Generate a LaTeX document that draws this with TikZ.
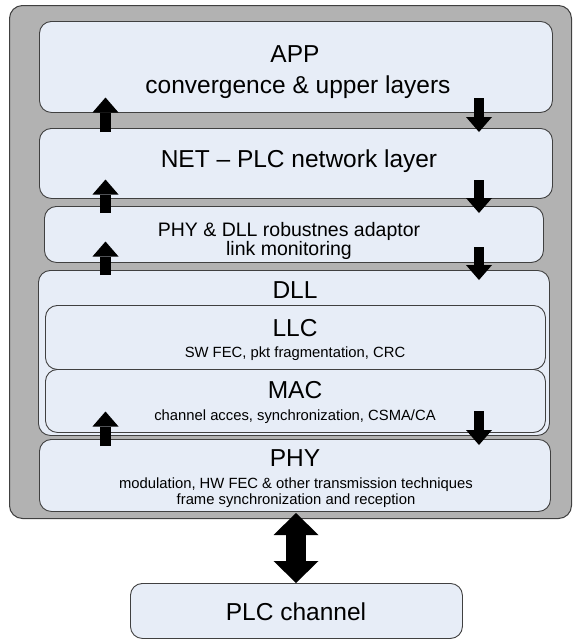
\documentclass[tikz,border=0pt]{standalone}
\usepackage{fontspec}
\setmainfont{Liberation Sans}
\usetikzlibrary{arrows.meta}

\definecolor{layerfill}{RGB}{231,237,247}
\definecolor{stackgray}{RGB}{178,178,178}
\definecolor{edgegray}{RGB}{64,64,64}

\tikzset{
  layerbox/.style={draw=edgegray, line width=0.9pt, fill=layerfill, rounded corners=12pt},
  stackbox/.style={draw=edgegray, line width=1pt, fill=stackgray, rounded corners=13pt},
  bigtxt/.style={anchor=base, inner sep=0pt, font=\fontsize{24.5}{24.5}\selectfont},
  midtxt/.style={anchor=base, inner sep=0pt, font=\fontsize{19.5}{19.5}\selectfont},
  smalltxt/.style={anchor=base, inner sep=0pt, font=\fontsize{14.8}{14.8}\selectfont},
  flowarrow/.style={line width=10.5pt, -{Triangle[width=26pt,length=15pt,line width=0pt]}},
  linkarrow/.style={line width=20pt,
    {Triangle[width=45pt,length=22pt,line width=0pt]}-{Triangle[width=45pt,length=22pt,line width=0pt]}},
}

\begin{document}
\begin{tikzpicture}[x=1pt, y=-1pt]
\useasboundingbox (0,0) rectangle (574,641);

% protocol stack frame
\node[stackbox, minimum width=562pt, minimum height=513pt, anchor=north west] (stack) at (9,5) {};

% layers
\node[layerbox, minimum width=513pt, minimum height=91pt, anchor=north west] (app) at (39,21) {};
\node[layerbox, minimum width=513pt, minimum height=70pt, anchor=north west] (net) at (39,128) {};
\node[layerbox, minimum width=499pt, minimum height=56pt, anchor=north west] (adapt) at (44,206) {};
\node[layerbox, minimum width=511pt, minimum height=165pt, anchor=north west] (dll) at (38,270) {};
\node[layerbox, minimum width=500pt, minimum height=64pt, anchor=north west] (llc) at (45,305) {};
\node[layerbox, minimum width=500pt, minimum height=63pt, anchor=north west] (mac) at (45,369) {};
\node[layerbox, minimum width=511pt, minimum height=72pt, anchor=north west] (phy) at (39,439) {};
\node[layerbox, minimum width=332pt, minimum height=55pt, anchor=north west] (chan) at (130,583) {};

% labels
\node[bigtxt] (apptitle) at (295,62) {APP};
\node[bigtxt] (appsub) at (298,93) {convergence \& upper layers};
\node[bigtxt] (nettitle) at (299,167) {NET – PLC network layer};
\node[midtxt] (adapttitle) at (289,236) {PHY \& DLL robustnes adaptor};
\node[midtxt] (adaptsub) at (289,255) {link monitoring};
\node[bigtxt] (dlltitle) at (295,298) {DLL};
\node[bigtxt] (llctitle) at (295,336) {LLC};
\node[smalltxt] (llcsub) at (295,357) {SW FEC, pkt fragmentation, CRC};
\node[bigtxt] (mactitle) at (295,398) {MAC};
\node[smalltxt] (macsub) at (295,420) {channel acces, synchronization, CSMA/CA};
\node[bigtxt] (phytitle) at (295,466) {PHY};
\node[smalltxt] (physub) at (296,488) {modulation, HW FEC \& other transmission techniques};
\node[smalltxt] (physubb) at (296,504) {frame synchronization and reception};
\node[bigtxt] (chantitle) at (296,620) {PLC channel};

% upward flow
\coordinate (upa0) at (105.5,132); \coordinate (upa1) at (105.5,97.5);
\coordinate (upb0) at (105.5,213); \coordinate (upb1) at (105.5,179.5);
\coordinate (upc0) at (105.5,275); \coordinate (upc1) at (105.5,241.5);
\coordinate (upd0) at (105.5,446); \coordinate (upd1) at (105.5,411.5);
\draw[flowarrow] (upa0) -- (upa1);
\draw[flowarrow] (upb0) -- (upb1);
\draw[flowarrow] (upc0) -- (upc1);
\draw[flowarrow] (upd0) -- (upd1);

% downward flow
\coordinate (dna0) at (479,98);  \coordinate (dna1) at (479,132);
\coordinate (dnb0) at (479,180); \coordinate (dnb1) at (479,213);
\coordinate (dnc0) at (479,247); \coordinate (dnc1) at (479,280);
\coordinate (dnd0) at (479,411); \coordinate (dnd1) at (479,445);
\draw[flowarrow] (dna0) -- (dna1);
\draw[flowarrow] (dnb0) -- (dnb1);
\draw[flowarrow] (dnc0) -- (dnc1);
\draw[flowarrow] (dnd0) -- (dnd1);

% link between physical layer and the channel
\coordinate (lk0) at (296,513);
\draw[linkarrow] (lk0) -- (chan.north -| lk0);
\end{tikzpicture}
\end{document}
